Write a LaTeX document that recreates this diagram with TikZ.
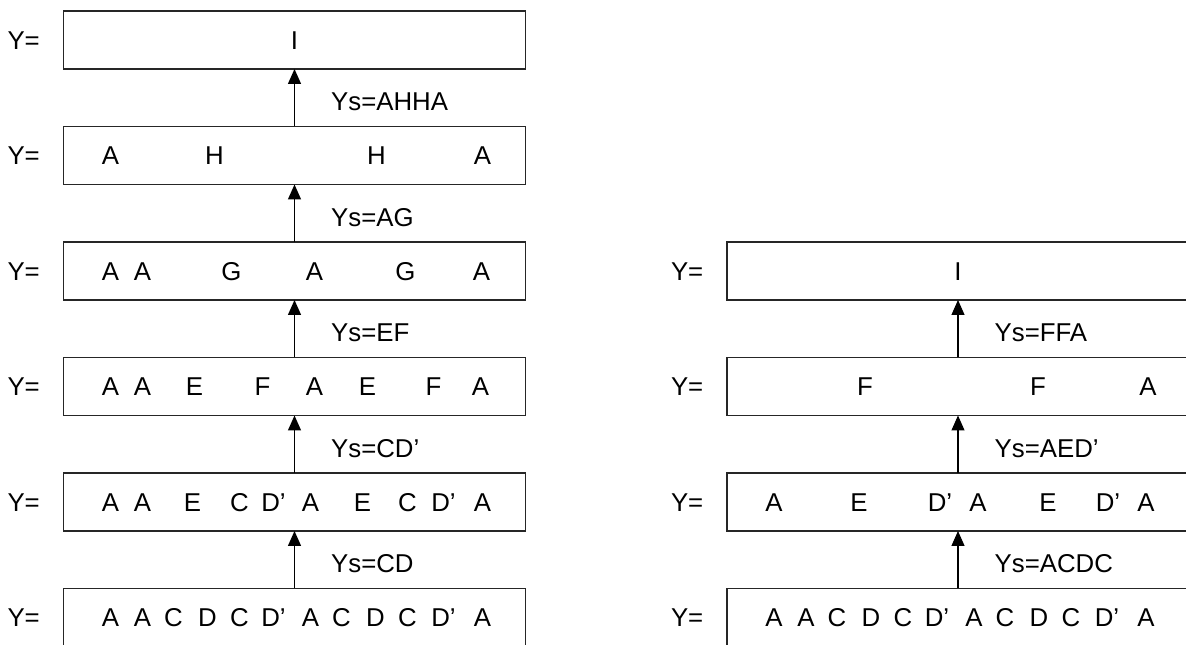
\documentclass[tikz,border=0pt]{standalone}
\usepackage{fontspec}
\setmainfont{Liberation Sans}
\usetikzlibrary{arrows.meta,positioning}

\begin{document}
\begin{tikzpicture}[
        x=1pt, y=1pt,
        node distance=57.5pt,
        font=\fontsize{25.8}{30}\selectfont,
        box/.style={rectangle, draw=black!85, line width=1.4pt, minimum width=462pt, minimum height=58pt, inner sep=0pt, outer sep=0pt},
        arrow/.style={-{Triangle[width=13pt,length=15pt]}, line width=1.3pt},
        glyph/.style={inner sep=0pt, text height=18.5pt, text depth=0pt},
        ys-label/.style={glyph, midway, right=36pt, yshift=-4pt},
        eq/.style={glyph}
    ]

    \clip (0,0) rectangle (1186,645);

    % Left column, bottom row first
    \node[box] (left-row6) at (294.5,27.5) {};
    \node[box, above=of left-row6] (left-row5) {};
    \node[box, above=of left-row5] (left-row4) {};
    \node[box, above=of left-row4] (left-row3) {};
    \node[box, above=of left-row3] (left-row2) {};
    \node[box, above=of left-row2] (left-row1) {};

    % Right column - positioned relative to left side
    \node[box, right=201.5pt of left-row6] (right-row6) {};
    \node[box, above=of right-row6] (right-row5) {};
    \node[box, above=of right-row5] (right-row4) {};
    \node[box, above=of right-row4] (right-row3) {};

    % Y= in front of every row
    \foreach \r in {1,...,6}
        \node[eq, left=23.5pt of left-row\r] (left-eq\r) {Y=};
    \foreach \r in {3,...,6}
        \node[eq, left=23.5pt of right-row\r] (right-eq\r) {Y=};

    % Letters inside the left boxes
    \foreach \x/\ch [count=\i] in {47/A,79/A,110/C,144/D,176/C,210/D’,247/A,278/C,312/D,344/C,380/D’,419/A}
        \node[glyph] (left-row6-\i) at ([xshift=\x pt]left-row6.west) {\ch};
    \foreach \x/\ch [count=\i] in {47/A,79/A,129/E,176/C,210/D’,247/A,299/E,344/C,380/D’,419/A}
        \node[glyph] (left-row5-\i) at ([xshift=\x pt]left-row5.west) {\ch};
    \foreach \x/\ch [count=\i] in {47/A,79/A,131/E,199/F,251/A,304/E,370/F,417/A}
        \node[glyph] (left-row4-\i) at ([xshift=\x pt]left-row4.west) {\ch};
    \foreach \x/\ch [count=\i] in {47/A,79/A,168/G,251/A,342/G,418/A}
        \node[glyph] (left-row3-\i) at ([xshift=\x pt]left-row3.west) {\ch};
    \foreach \x/\ch [count=\i] in {47/A,151/H,313/H,419/A}
        \node[glyph] (left-row2-\i) at ([xshift=\x pt]left-row2.west) {\ch};
    \node[glyph] (left-row1-1) at (left-row1.center) {I};

    % Letters inside the right boxes
    \foreach \x/\ch [count=\i] in {47/A,79/A,110/C,144/D,176/C,210/D’,247/A,278/C,312/D,344/C,380/D’,419/A}
        \node[glyph] (right-row6-\i) at ([xshift=\x pt]right-row6.west) {\ch};
    \foreach \x/\ch [count=\i] in {47/A,132/E,213/D’,251/A,321/E,381/D’,419/A}
        \node[glyph] (right-row5-\i) at ([xshift=\x pt]right-row5.west) {\ch};
    \foreach \x/\ch [count=\i] in {138/F,311/F,421/A}
        \node[glyph] (right-row4-\i) at ([xshift=\x pt]right-row4.west) {\ch};
    \node[glyph] (right-row3-1) at (right-row3.center) {I};

    % Arrows between the rows
    \draw[arrow] (left-row6.north) -- node[ys-label] {Ys=CD} (left-row5.south);
    \draw[arrow] (left-row5.north) -- node[ys-label] {Ys=CD’} (left-row4.south);
    \draw[arrow] (left-row4.north) -- node[ys-label] {Ys=EF} (left-row3.south);
    \draw[arrow] (left-row3.north) -- node[ys-label] {Ys=AG} (left-row2.south);
    \draw[arrow] (left-row2.north) -- node[ys-label] {Ys=AHHA} (left-row1.south);

    \draw[arrow] (right-row6.north) -- node[ys-label] {Ys=ACDC} (right-row5.south);
    \draw[arrow] (right-row5.north) -- node[ys-label] {Ys=AED’} (right-row4.south);
    \draw[arrow] (right-row4.north) -- node[ys-label] {Ys=FFA} (right-row3.south);

\end{tikzpicture}
\end{document}
